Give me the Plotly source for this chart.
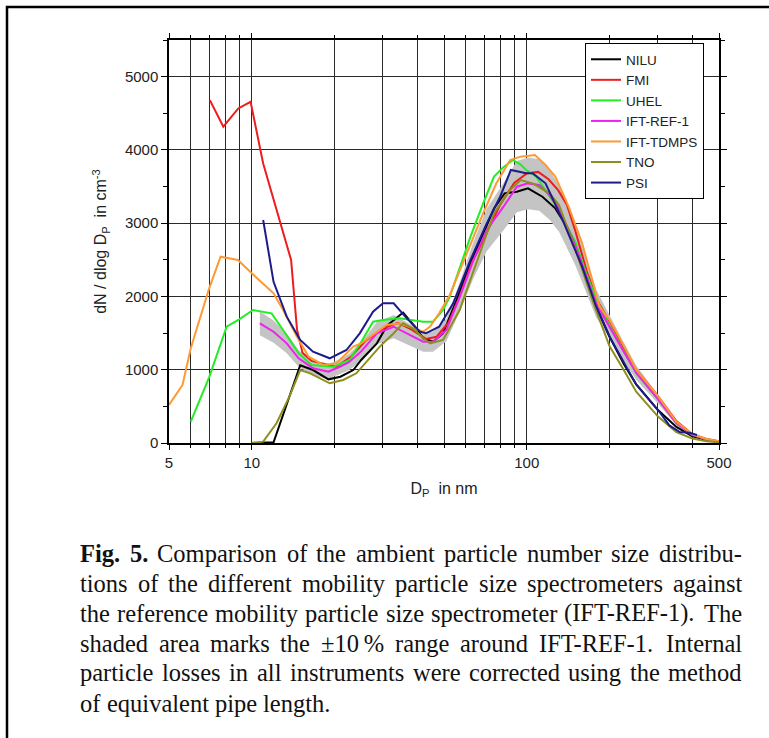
import plotly.graph_objects as go

# ---------------- data ----------------
nilu_d = [10, 11, 12, 15, 16.7, 19, 21, 23.4, 25, 28.5, 31, 35.5, 39, 42, 45.6, 49.6, 55.6, 62.4, 69.4, 76, 83, 92, 101, 114, 127, 140, 150, 165, 179, 200, 225, 250, 300, 350, 400, 450, 500]
nilu_n = [0, 0, 10, 1060, 996, 869, 905, 996, 1133, 1360, 1600, 1780, 1600, 1429, 1383, 1497, 1952, 2452, 2862, 3200, 3407, 3430, 3476, 3361, 3202, 2950, 2725, 2250, 1860, 1450, 1080, 800, 450, 220, 90, 40, 15]

fmi_d = [7.04, 7.88, 8.93, 9.9, 11.0, 12.7, 13.9, 14.6, 15.3, 16.5, 18.5, 20.3, 23, 26, 30, 34, 38, 43, 47, 52, 57, 63, 70, 80, 90, 100, 110, 120, 130, 140, 150, 165, 180, 200, 225, 250, 300, 350, 400, 450, 500]
fmi_n = [4680, 4316, 4566, 4657, 3815, 2998, 2497, 1550, 1230, 1120, 1080, 1041, 1180, 1400, 1560, 1640, 1550, 1420, 1450, 1650, 2000, 2450, 2800, 3250, 3550, 3680, 3700, 3600, 3450, 3250, 2900, 2350, 1950, 1660, 1300, 1000, 640, 300, 120, 55, 25]

uhel_d = [6.0, 7.0, 8.1, 9.0, 10.1, 11.8, 13.0, 14.8, 16.5, 19.8, 22.7, 25, 27.6, 30, 34.4, 38, 42, 45.6, 49.6, 52.5, 57, 62.4, 69.4, 76, 82, 89, 95, 99.5, 108, 117, 127, 140, 150, 165, 180, 200, 225, 250, 300, 350, 400, 450, 500]
uhel_n = [291, 900, 1588, 1688, 1815, 1770, 1542, 1224, 1065, 1041, 1133, 1380, 1656, 1679, 1702, 1680, 1656, 1656, 1815, 1997, 2400, 2816, 3271, 3635, 3760, 3862, 3800, 3726, 3640, 3453, 3250, 2950, 2750, 2300, 1950, 1600, 1250, 950, 600, 270, 110, 50, 20]

ref_d = [10.7, 12.0, 13.4, 14.8, 16.7, 19.0, 20.9, 22.5, 25, 28.5, 32.8, 36.6, 42, 45.6, 51, 57.1, 64, 71.5, 82.3, 92, 101, 111, 121, 131, 150, 179, 200, 225, 250, 300, 350, 400, 450, 500]
ref_n = [1633, 1519, 1360, 1155, 1019, 973, 1041, 1100, 1250, 1497, 1587, 1497, 1383, 1383, 1542, 1997, 2498, 2907, 3225, 3498, 3543, 3521, 3384, 3202, 2700, 1900, 1580, 1250, 960, 600, 270, 110, 50, 18]

tdmps_d = [5.0, 5.6, 6.0, 7.0, 7.7, 8.9, 10, 12.0, 13.0, 14.6, 16.1, 18.2, 20.3, 23.4, 25, 30.9, 34.4, 37.5, 42, 44.5, 48, 52.5, 57, 62.4, 69.4, 77.5, 87, 95, 107, 117, 127, 142, 159, 184, 200, 225, 250, 300, 350, 400, 450, 500]
tdmps_n = [520, 792, 1292, 2111, 2543, 2498, 2316, 2043, 1815, 1451, 1178, 1065, 1087, 1315, 1360, 1610, 1634, 1588, 1519, 1588, 1770, 2020, 2350, 2725, 3135, 3544, 3862, 3908, 3931, 3794, 3635, 3225, 2725, 1860, 1680, 1330, 1000, 640, 290, 120, 55, 22]

tno_d = [10, 11, 12.3, 13.7, 15, 16.3, 19.2, 21.5, 24, 29.2, 32.8, 35.5, 39, 42, 44.5, 49.6, 57, 66, 76, 87, 95, 105, 121, 131, 150, 175, 200, 225, 250, 300, 350, 400, 450, 500]
tno_n = [0, 18, 269, 632, 996, 951, 815, 860, 951, 1315, 1497, 1634, 1550, 1429, 1360, 1406, 1815, 2498, 3135, 3453, 3589, 3544, 3407, 3248, 2650, 1900, 1320, 1000, 700, 360, 150, 60, 25, 10]

psi_d = [11.0, 12.0, 13.4, 15, 16.7, 19.2, 22.1, 24.7, 27.6, 30, 32.8, 36.6, 40.9, 43, 48, 54, 62.4, 71.5, 80, 87.5, 99.5, 105, 117, 135, 159, 179, 200, 225, 250, 300, 330, 360, 390, 416]
psi_n = [3043, 2200, 1724, 1406, 1246, 1156, 1269, 1497, 1792, 1906, 1906, 1702, 1519, 1497, 1587, 1906, 2498, 2998, 3361, 3726, 3681, 3681, 3544, 3043, 2406, 1860, 1450, 1100, 800, 450, 240, 150, 140, 110]

series = [
    ("NILU", nilu_d, nilu_n, "#000000"),
    ("FMI", fmi_d, fmi_n, "#ee1c1c"),
    ("UHEL", uhel_d, uhel_n, "#22ee22"),
    ("IFT-REF-1", ref_d, ref_n, "#ee22ee"),
    ("IFT-TDMPS", tdmps_d, tdmps_n, "#ff9933"),
    ("TNO", tno_d, tno_n, "#8f8f1f"),
    ("PSI", psi_d, psi_n, "#1c1c8c"),
]

x_ticks = [5, 10, 100, 500]
x_minor = [6, 7, 8, 9, 20, 30, 40, 50, 60, 70, 80, 90, 200, 300, 400]
y_ticks = [0, 1000, 2000, 3000, 4000, 5000]

caption_lines = [
    "Fig. 5. Comparison of the ambient particle number size distribu-",
    "tions of the different mobility particle size spectrometers against",
    "the reference mobility particle size spectrometer (IFT-REF-1). The",
    "shaded area marks the \u00b110\u2009% range around IFT-REF-1. Internal",
    "particle losses in all instruments were corrected using the method",
    "of equivalent pipe length.",
]
bold_words = {"Fig.", "5."}

# ---------------- layout geometry ----------------
W, H = 769, 738
L, R, T, B = 169, 719, 40, 443


def px(x):
    return (x - L) / (R - L)


def py(y):
    return (B - y) / (B - T)


# Times / Liberation Serif advance widths (per 1000 em) for justification
TW = {' ': 250, 'a': 444, 'b': 500, 'c': 444, 'd': 500, 'e': 444, 'f': 333, 'g': 500, 'h': 500,
      'i': 278, 'j': 278, 'k': 500, 'l': 278, 'm': 778, 'n': 500, 'o': 500, 'p': 500, 'q': 500,
      'r': 333, 's': 389, 't': 278, 'u': 500, 'v': 500, 'w': 722, 'x': 500, 'y': 500, 'z': 444,
      'A': 722, 'B': 667, 'C': 667, 'D': 722, 'E': 611, 'F': 556, 'G': 722, 'H': 722, 'I': 333,
      'J': 389, 'K': 722, 'L': 611, 'M': 889, 'N': 722, 'O': 722, 'P': 556, 'Q': 722, 'R': 667,
      'S': 556, 'T': 611, 'U': 722, 'V': 722, 'W': 944, 'X': 722, 'Y': 722, 'Z': 611,
      '.': 250, ',': 250, '-': 333, '(': 333, ')': 333, '%': 833, '\u00b1': 564, '\u2009': 200}
TWB = dict(TW)
TWB.update({'F': 611, 'i': 278, 'g': 500, '.': 250})


def word_width(w, size, bold=False):
    tab = TWB if bold else TW
    return sum(tab.get(ch, 500) for ch in w) * size / 1000.0


CAP_SIZE = 24.5
CAP_X0, CAP_X1 = 80, 742

fig = go.Figure()

# shaded +-10 % band around IFT-REF-1
band_x = ref_d + ref_d[::-1]
band_y = [v * 1.1 for v in ref_n] + [v * 0.9 for v in ref_n][::-1]
fig.add_trace(go.Scatter(x=band_x, y=band_y, fill="toself", fillcolor="#c4c4c4",
                         line=dict(width=0, color="#c4c4c4"), mode="lines",
                         showlegend=False, hoverinfo="skip"))

for name, d, n, c in series:
    fig.add_trace(go.Scatter(x=d, y=n, mode="lines", name=name,
                             line=dict(color=c, width=2)))

sans = "Liberation Sans, Arial, sans-serif"
axis_font = dict(family=sans, size=15, color="#222")
grid_col = "#2a2a2a"

fig.update_xaxes(
    type="log", range=[0.69897, 2.69897],
    tickvals=x_ticks, ticktext=[str(v) for v in x_ticks],
    ticks="outside", ticklen=5, tickcolor="#000", tickfont=axis_font,
    showgrid=True, gridcolor=grid_col, gridwidth=1.2,
    minor=dict(tickvals=x_minor, showgrid=True, gridcolor=grid_col, gridwidth=1.2,
               ticks="outside", ticklen=3, tickcolor="#000"),
    showline=True, linecolor="#000", linewidth=1.5, mirror="ticks",
    zeroline=False,
    title=dict(text="D<sub>P</sub>  in nm", font=dict(family=sans, size=16, color="#222"), standoff=13),
)
fig.update_yaxes(
    range=[0, 5500], tickvals=y_ticks,
    ticks="outside", ticklen=6, tickcolor="#000", tickfont=axis_font,
    showgrid=True, gridcolor=grid_col, gridwidth=1.2,
    minor=dict(dtick=500, ticks="outside", ticklen=4, tickcolor="#000", showgrid=False),
    showline=True, linecolor="#000", linewidth=1.5, mirror="ticks",
    zeroline=False,
    title=dict(text="dN / dlog D<sub>P</sub>  in cm<sup>-3</sup>", font=dict(family=sans, size=16, color="#222"), standoff=14),
)

# caption: justified lines, word by word
annotations = []
for i, line in enumerate(caption_lines):
    yc = 553 + 30 * i
    words = line.split(" ")
    widths = [word_width(w, CAP_SIZE, w in bold_words and i == 0) for w in words]
    last = (i == len(caption_lines) - 1)
    if last or len(words) == 1:
        gap = TW[' '] * CAP_SIZE / 1000.0
    else:
        gap = (CAP_X1 - CAP_X0 - sum(widths)) / (len(words) - 1)
    x = CAP_X0
    for w, ww in zip(words, widths):
        txt = "<b>%s</b>" % w if (i == 0 and w in bold_words) else w
        annotations.append(dict(
            text=txt, xref="paper", yref="paper", x=px(x), y=py(yc),
            xanchor="left", yanchor="middle", showarrow=False, align="left",
            borderpad=0, xshift=-1,
            font=dict(family="Liberation Serif, Times New Roman, serif", size=CAP_SIZE, color="#111"),
        ))
        x += ww + gap

fig.update_layout(
    width=W, height=H,
    margin=dict(l=L, r=W - R, t=T, b=H - B, pad=0),
    paper_bgcolor="white", plot_bgcolor="white",
    legend=dict(x=px(585), y=py(43), xanchor="left", yanchor="top",
                bordercolor="#000", borderwidth=1, bgcolor="white",
                font=dict(family=sans, size=13.5, color="#222"),
                tracegroupgap=0, itemwidth=30),
    annotations=annotations,
    shapes=[dict(type="rect", xref="paper", yref="paper",
                 x0=px(7), x1=px(800), y0=py(7), y1=py(760),
                 line=dict(color="#000", width=2.5), fillcolor="rgba(0,0,0,0)", layer="above")],
)

fig.write_html("out.html")
